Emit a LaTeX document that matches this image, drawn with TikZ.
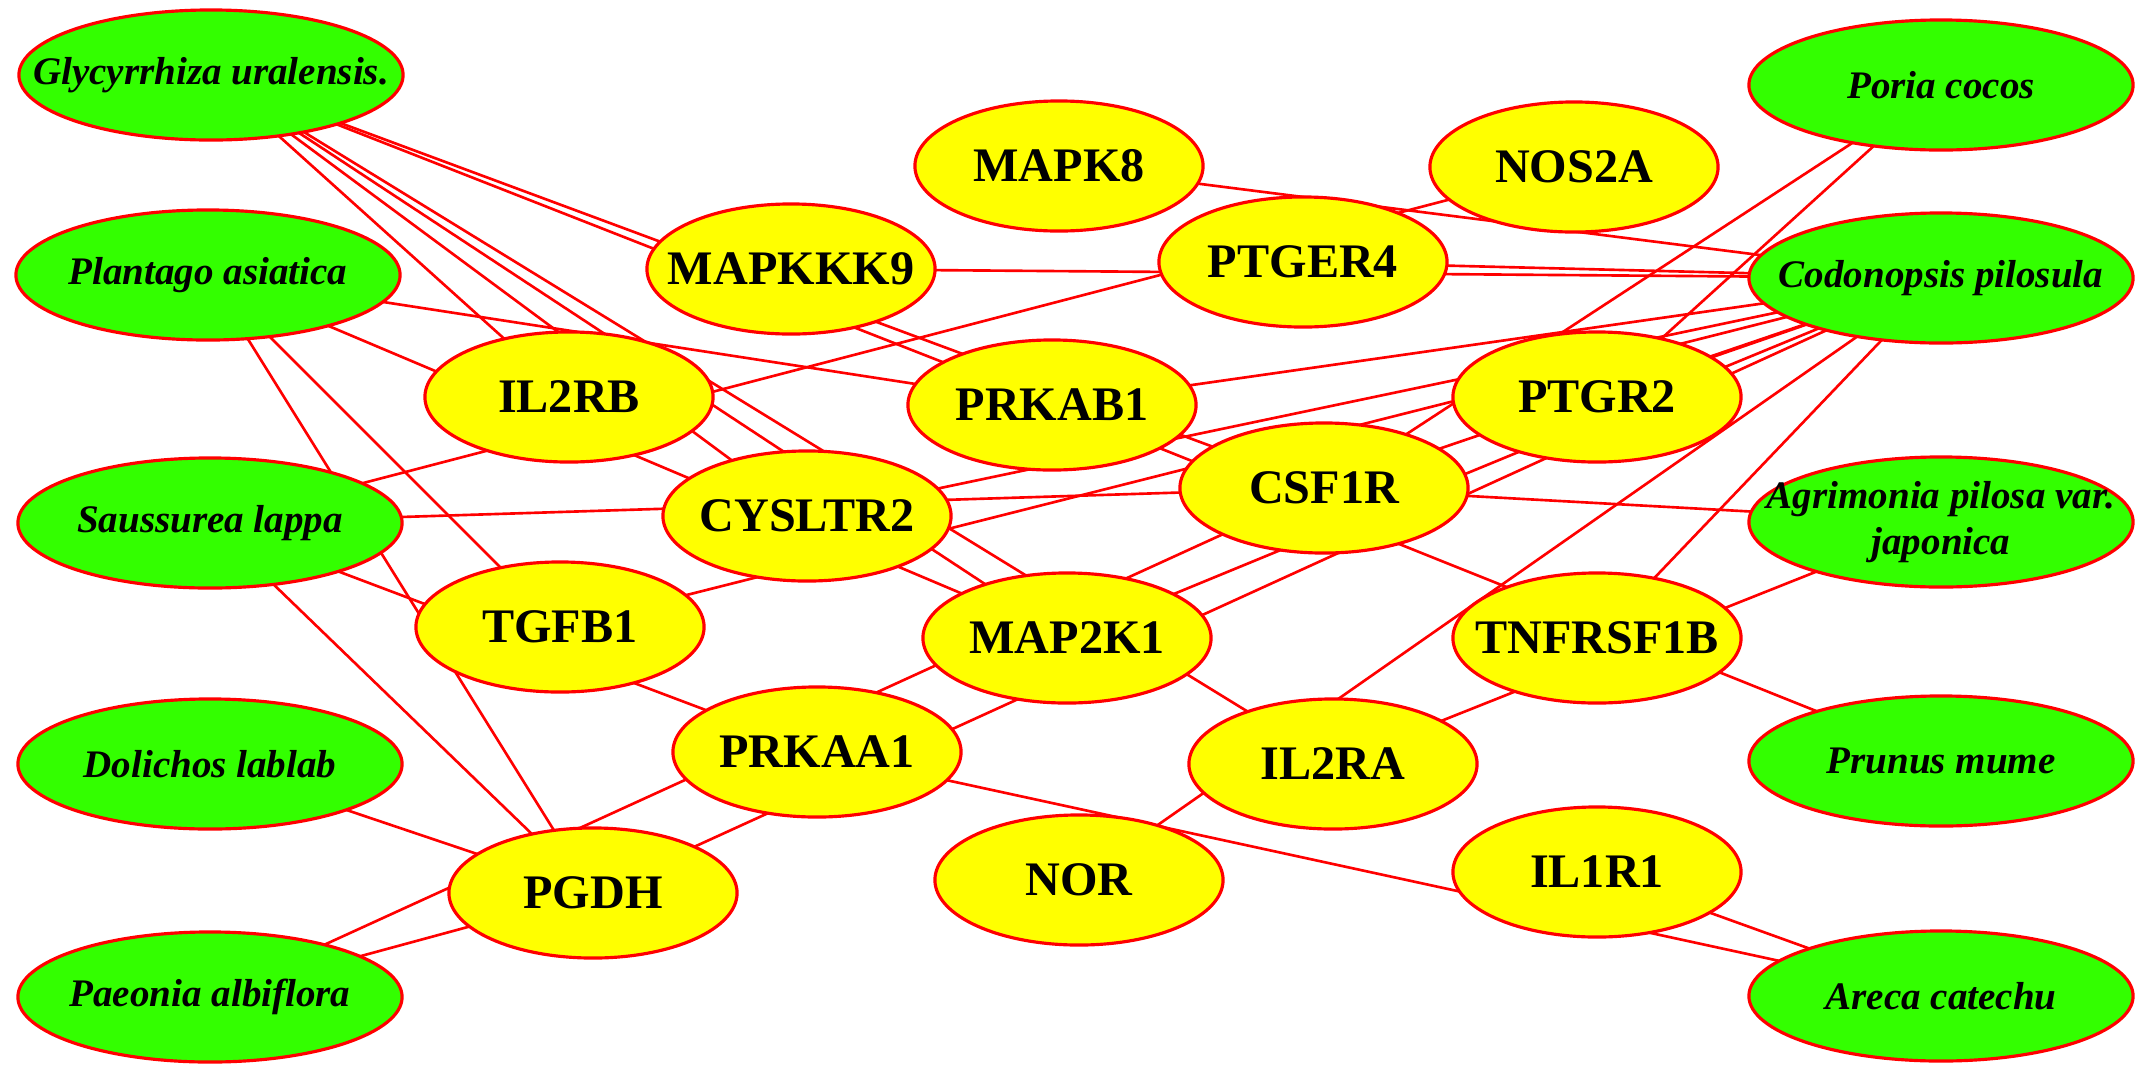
\documentclass[tikz,border=0pt]{standalone}
\usepackage{fontspec}
\setmainfont{Liberation Serif}
\usetikzlibrary{shapes.geometric}
\definecolor{herbgreen}{RGB}{51,255,0}
\definecolor{tgtyellow}{RGB}{255,255,0}
\definecolor{edgered}{RGB}{255,0,0}
\pgfdeclarelayer{bg}
\pgfsetlayers{bg,main}
\begin{document}
\begin{tikzpicture}[x=0.01cm,y=-0.01cm,
  tgttext/.style={font=\fontsize{13.7pt}{16pt}\selectfont\bfseries, inner sep=0pt},
  herbtext/.style={font=\fontsize{11.1pt}{12.9pt}\selectfont\bfseries\itshape, align=center, inner sep=0pt},
  target/.style={ellipse, draw=edgered, line width=0.9pt, fill=tgtyellow,
    minimum width=2.88cm, minimum height=1.3cm, inner sep=0pt,
    label={[tgttext]center:#1}},
  herb/.style={ellipse, draw=edgered, line width=0.9pt, fill=herbgreen,
    minimum width=3.84cm, minimum height=1.3cm, inner sep=0pt,
    label={[herbtext]center:#1}},
  link/.style={draw=edgered, line width=0.75pt}]
\useasboundingbox (0,0) rectangle (2150,1078);
% herbs
\node[herb={Glycyrrhiza uralensis.}] (gly) at (211,75) {};
\node[herb={Plantago asiatica}] (pla) at (208,275) {};
\node[herb={Saussurea lappa}] (sau) at (210,523) {};
\node[herb={Dolichos lablab}] (dol) at (210,764) {};
\node[herb={Paeonia albiflora}] (pae) at (210,997) {};
\node[herb={Poria cocos}] (por) at (1941,85) {};
\node[herb={Codonopsis pilosula}] (cod) at (1941,278) {};
\node[herb={Agrimonia pilosa var.\\japonica}] (agr) at (1941,522) {};
\node[herb={Prunus mume}] (pru) at (1941,761) {};
\node[herb={Areca catechu}] (are) at (1941,996) {};
% targets
\node[target={MAPK8}] (mapk8) at (1059,166) {};
\node[target={NOS2A}] (nos2a) at (1574,167) {};
\node[target={MAPKKK9}] (mapkkk9) at (791,269) {};
\node[target={PTGER4}] (ptger4) at (1303,262) {};
\node[target={IL2RB}] (il2rb) at (569,397) {};
\node[target={PRKAB1}] (prkab1) at (1052,405) {};
\node[target={PTGR2}] (ptgr2) at (1597,397) {};
\node[target={CYSLTR2}] (cysltr2) at (807,516) {};
\node[target={CSF1R}] (csf1r) at (1324,488) {};
\node[target={TGFB1}] (tgfb1) at (560,627) {};
\node[target={MAP2K1}] (map2k1) at (1067,638) {};
\node[target={TNFRSF1B}] (tnfrsf1b) at (1597,638) {};
\node[target={PRKAA1}] (prkaa1) at (817,752) {};
\node[target={IL2RA}] (il2ra) at (1333,764) {};
\node[target={PGDH}] (pgdh) at (593,893) {};
\node[target={NOR}] (nor) at (1079,880) {};
\node[target={IL1R1}] (il1r1) at (1597,872) {};
% edges (drawn beneath the nodes)
\begin{pgfonlayer}{bg}
\fill[white] (0,0) rectangle (2150,1078);
\foreach \a/\b in {gly/prkab1, gly/csf1r, gly/il2rb, gly/cysltr2, gly/map2k1, gly/il2ra,
  pla/prkab1, pla/map2k1, pla/tgfb1, pla/pgdh,
  sau/nos2a, sau/csf1r, sau/prkaa1, sau/pgdh,
  dol/pgdh, pae/pgdh, pae/csf1r,
  por/ptgr2, por/csf1r,
  cod/mapk8, cod/mapkkk9, cod/ptger4, cod/prkab1, cod/cysltr2, cod/tgfb1,
  cod/ptgr2, cod/csf1r, cod/map2k1, cod/pgdh, cod/nor, cod/tnfrsf1b,
  agr/csf1r, agr/il2ra, pru/prkab1, are/il1r1, are/prkaa1}
  \draw[link] (\a.center) -- (\b.center);
\end{pgfonlayer}
\end{tikzpicture}
\end{document}
